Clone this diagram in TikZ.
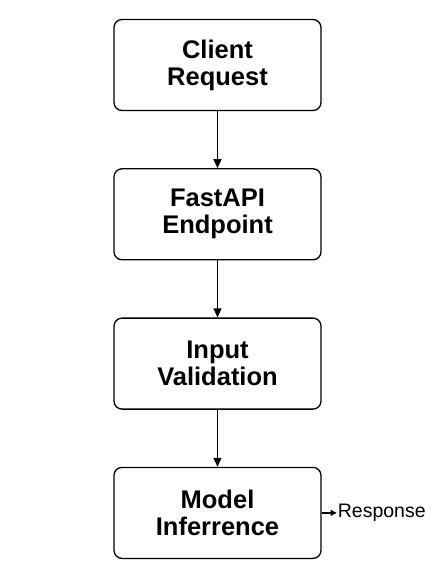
\documentclass[tikz,border=0pt]{standalone}
\usepackage{fontspec}
\setmainfont{Liberation Sans}
\usetikzlibrary{positioning,arrows.meta}

\begin{document}
\begin{tikzpicture}[x=1pt, y=1pt,
    stage/.style={draw, line width=1.3pt, rounded corners=8pt,
        minimum width=207pt, minimum height=91pt, align=center,
        font=\fontsize{25.5}{27}\selectfont\bfseries},
    flow/.style={line width=1.2pt, -{Triangle[length=9pt, width=8pt]}},
    outflow/.style={line width=1.2pt, -{Triangle[length=6pt, width=6pt]}}]
    \useasboundingbox (0,0) rectangle (435,-573);

    % Pipeline stages
    \node[stage] (client) at (217.5,-65) {Client\\Request};
    \node[stage, below=57pt of client] (endpoint) {FastAPI\\Endpoint};
    \node[stage, below=57pt of endpoint] (validation) {Input\\Validation};
    \node[stage, below=57pt of validation] (model) {Model\\Inferrence};

    % Output
    \node[right=15pt of model, inner sep=1pt,
        font=\fontsize{19.5}{22}\selectfont] (response) {Response};

    % Connectors
    \draw[flow] (client) -- (endpoint);
    \draw[flow] (endpoint) -- (validation);
    \draw[flow] (validation) -- (model);
    \draw[outflow] (model) -- (response);
\end{tikzpicture}
\end{document}
